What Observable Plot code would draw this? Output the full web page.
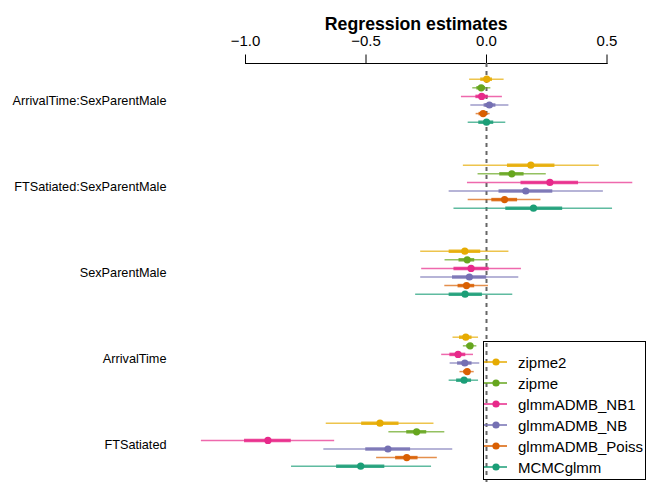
<!DOCTYPE html>
<html>
<head>
<meta charset="utf-8">
<script src="https://cdn.jsdelivr.net/npm/d3@7"></script>
<script src="https://cdn.jsdelivr.net/npm/@observablehq/plot@0.6"></script>
<style>
  html, body { margin: 0; padding: 0; background: #fff; }
  #wrap { position: relative; width: 650px; height: 482px; font-family: "Liberation Sans", Arial, Helvetica, sans-serif; }
  #legend { position: absolute; left: 483px; top: 341px; width: 163px; height: 139px; border: 1px solid #000; box-sizing: border-box; }
  .item { position: absolute; left: 0; height: 20px; display: flex; align-items: center; font-size: 15px; color: #000; }
  .item svg { margin-left: 0px; margin-right: 10px; }
</style>
</head>
<body>
<div id="wrap"><div id="legend"></div></div>
<script>
const terms = ["ArrivalTime:SexParentMale", "FTSatiated:SexParentMale", "SexParentMale", "ArrivalTime", "FTSatiated"];
const models = ["zipme2", "zipme", "glmmADMB_NB1", "glmmADMB_NB", "glmmADMB_Poiss", "MCMCglmm"];
const colors = ["#E6AB02", "#66A61E", "#E7298A", "#7570B3", "#D95F02", "#1B9E77"];
const xTicks = [-1, -0.5, 0, 0.5];

// estimates per model, in term order
const est_zipme2 = [0.001, 0.184, -0.090, -0.086, -0.442];
const est_zipme  = [-0.022, 0.105, -0.080, -0.068, -0.290];
const est_NB1    = [-0.020, 0.263, -0.064, -0.118, -0.907];
const est_NB     = [0.012, 0.163, -0.071, -0.090, -0.409];
const est_Poiss  = [-0.014, 0.075, -0.083, -0.080, -0.331];
const est_MCMC   = [0.000, 0.195, -0.089, -0.093, -0.522];

// outer (thin) interval
const outLo_zipme2 = [-0.070, -0.096, -0.273, -0.139, -0.665];
const outHi_zipme2 = [0.073, 0.468, 0.093, -0.033, -0.218];
const outLo_zipme  = [-0.057, -0.035, -0.172, -0.096, -0.405];
const outHi_zipme  = [0.018, 0.248, 0.012, -0.040, -0.173];
const outLo_NB1    = [-0.104, -0.079, -0.269, -0.186, -1.183];
const outHi_NB1    = [0.066, 0.607, 0.145, -0.054, -0.630];
const outLo_NB     = [-0.065, -0.155, -0.273, -0.151, -0.675];
const outHi_NB     = [0.093, 0.485, 0.134, -0.028, -0.140];
const outLo_Poiss  = [-0.043, -0.076, -0.173, -0.110, -0.456];
const outHi_Poiss  = [0.015, 0.226, 0.008, -0.051, -0.204];
const outLo_MCMC   = [-0.076, -0.135, -0.294, -0.155, -0.809];
const outHi_MCMC   = [0.080, 0.523, 0.109, -0.033, -0.228];

// inner (thick) interval
const inLo_zipme2 = [-0.024, 0.087, -0.155, -0.112, -0.518];
const inHi_zipme2 = [0.025, 0.284, -0.024, -0.060, -0.363];
const inLo_zipme  = [-0.040, 0.055, -0.114, -0.082, -0.331];
const inHi_zipme  = [-0.004, 0.156, -0.049, -0.054, -0.248];
const inLo_NB1    = [-0.044, 0.143, -0.135, -0.152, -1.004];
const inHi_NB1    = [0.007, 0.382, 0.011, -0.086, -0.810];
const inLo_NB     = [-0.010, 0.052, -0.141, -0.120, -0.501];
const inHi_NB     = [0.039, 0.275, 0.001, -0.060, -0.315];
const inLo_Poiss  = [-0.031, 0.022, -0.118, -0.095, -0.377];
const inHi_Poiss  = [0.004, 0.129, -0.049, -0.066, -0.284];
const inLo_MCMC   = [-0.032, 0.080, -0.155, -0.124, -0.622];
const inHi_MCMC   = [0.030, 0.316, -0.017, -0.062, -0.422];

const E = [est_zipme2, est_zipme, est_NB1, est_NB, est_Poiss, est_MCMC];
const OL = [outLo_zipme2, outLo_zipme, outLo_NB1, outLo_NB, outLo_Poiss, outLo_MCMC];
const OH = [outHi_zipme2, outHi_zipme, outHi_NB1, outHi_NB, outHi_Poiss, outHi_MCMC];
const IL = [inLo_zipme2, inLo_zipme, inLo_NB1, inLo_NB, inLo_Poiss, inLo_MCMC];
const IH = [inHi_zipme2, inHi_zipme, inHi_NB1, inHi_NB, inHi_Poiss, inHi_MCMC];

const data = [];
terms.forEach((t, g) => models.forEach((m, k) => {
  data.push({term: t, model: m, row: g * 10 + k, est: E[k][g], olo: OL[k][g], ohi: OH[k][g], ilo: IL[k][g], ihi: IH[k][g]});
}));

const fmt = d3.format(".1f");

const chart = Plot.plot({
  width: 650,
  height: 482,
  marginTop: 63,
  marginLeft: 245,
  marginRight: 43.5,
  marginBottom: 0,
  style: {fontFamily: "'Liberation Sans', Arial, Helvetica, sans-serif", background: "transparent", color: "#000"},
  x: {domain: [-1, 0.5]},
  y: {domain: [0, 45], range: [78.7, 465.7]},
  color: {domain: models, range: colors},
  marks: [
    Plot.frame({anchor: "top", stroke: "#000", strokeWidth: 1}),
    Plot.axisX({anchor: "top", ticks: xTicks, tickSize: 9.5, tickPadding: 8, tickFormat: fmt, fontSize: 15, label: null, stroke: "#000", strokeWidth: 1}),
    Plot.axisY({anchor: "left", ticks: terms.map((t, g) => g * 10 + 2.5), tickFormat: (d) => terms[Math.round((d - 2.5) / 10)], tickSize: 0, tickPadding: 79, fontSize: 12.7, label: null}),
    Plot.text(["Regression estimates"], {frameAnchor: "top", dx: -10, dy: -46.5, fontSize: 17.7, fontWeight: "bold", fill: "#000"}),
    Plot.ruleX([0], {stroke: "#666", strokeWidth: 2, strokeDasharray: "4,4"}),
    Plot.ruleY(data, {y: "row", x1: "olo", x2: "ohi", stroke: "model", strokeWidth: 1.5, strokeOpacity: 0.7}),
    Plot.ruleY(data, {y: "row", x1: "ilo", x2: "ihi", stroke: "model", strokeWidth: 3.5, strokeOpacity: 0.85}),
    Plot.dot(data, {x: "est", y: "row", fill: "model", r: 3.6})
  ]
});
document.getElementById("wrap").prepend(chart);
chart.style.position = "absolute";
chart.style.left = "0";
chart.style.top = "0";

// legend
const legend = document.getElementById("legend");
models.forEach((m, i) => {
  const div = document.createElement("div");
  div.className = "item";
  div.style.top = (10 + i * 21) + "px";
  div.innerHTML = `<svg width="24" height="10"><line x1="0" x2="23" y1="5" y2="5" stroke="${colors[i]}" stroke-width="1.5"/><circle cx="12" cy="5" r="3.6" fill="${colors[i]}"/></svg><span>${m}</span>`;
  legend.appendChild(div);
});
</script>
</body>
</html>
